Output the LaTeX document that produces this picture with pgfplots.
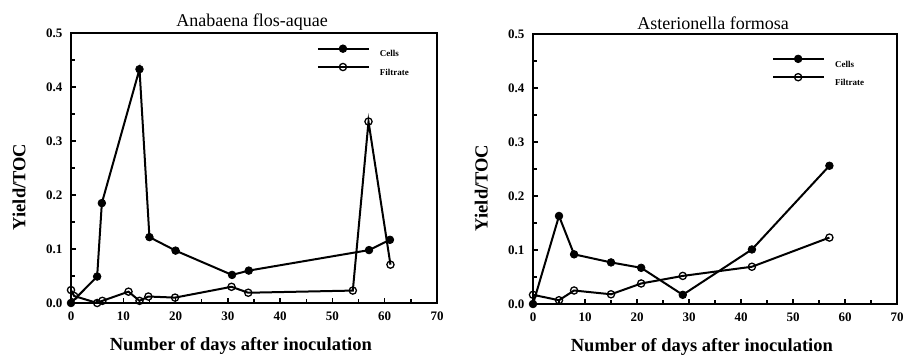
\documentclass[border=0pt]{standalone}
\usepackage{fontspec}
\setmainfont{Liberation Serif}
\usepackage{pgfplots}
\pgfplotsset{compat=1.18}

\pgfplotsset{
 panel/.style={
  scale only axis, width=366bp, height=270bp,
  xmin=0,xmax=70,ymin=0,ymax=0.5,
  xtick={0,10,20,30,40,50,60,70}, ytick={0,0.1,0.2,0.3,0.4,0.5},
  minor xtick={5,15,25,35,45,55,65}, minor ytick={0.05,0.15,0.25,0.35,0.45},
  tick pos=left, tick align=inside,
  major tick length=5bp, minor tick length=3.5bp,
  axis line style={line width=1.8bp},
  every tick/.style={line width=1.3bp, black},
  /pgf/number format/assume math mode=true,
  yticklabel style={/pgf/number format/fixed, /pgf/number format/fixed zerofill, /pgf/number format/precision=1, xshift=-5bp},
  xticklabel style={yshift=-5bp},
  every tick label/.append style={font=\fontsize{13bp}{15bp}\selectfont\bfseries},
  xlabel={Number of days after inoculation}, ylabel={Yield/TOC},
  label style={font=\fontsize{18.5bp}{21bp}\selectfont\bfseries},
  xlabel style={at={(rel axis cs:0.464,-0.16)}, anchor=center},
  ylabel style={at={(rel axis cs:-0.142,0.43)}, anchor=center},
  title style={at={(rel axis cs:0.495,1.018)}, anchor=center, font=\fontsize{18bp}{20bp}\selectfont},
  legend style={draw=none, fill=none, inner sep=0pt, outer sep=0pt,
     font=\fontsize{9bp}{10bp}\selectfont\bfseries, row sep=3bp, column sep=8bp,
     nodes={inner sep=2bp}},
  legend cell align=left,
  legend image code/.code={\draw[mark repeat=2,mark phase=2,#1] plot coordinates {(0bp,0bp) (25bp,0bp) (51bp,0bp)};},
 },
 cells/.style={black, line width=2bp, mark=*, mark size=3.8bp, mark options={solid, line width=0.8bp, fill=black}},
 filt/.style={black, line width=2bp, mark=o, mark size=3.6bp, mark options={solid, line width=1.3bp, fill=white}},
}

\begin{document}
\begin{tikzpicture}

\begin{axis}[panel, at={(71bp,52bp)}, anchor=south west,
  title={Anabaena flos-aquae},
  legend style={at={(rel axis cs:0.672,0.956)}, anchor=north west}]
\addplot[cells] coordinates {(0,0.0) (5.0,0.049) (5.9,0.185) (13.1,0.433) (15.0,0.122) (20.0,0.097) (30.8,0.052) (34.0,0.060) (57.0,0.098) (61.0,0.117)};
\addlegendentry{Cells}
\addplot[filt] coordinates {(0,0.024) (0.6,0.013) (5.0,0.0) (6.0,0.004) (11.0,0.021) (13.1,0.004) (14.8,0.012) (19.9,0.010) (30.7,0.030) (33.9,0.019) (53.9,0.023) (56.9,0.336) (61.1,0.071)};
\addlegendentry{Filtrate}
\end{axis}

\begin{axis}[panel, at={(533bp,51bp)}, anchor=south west, width=364bp,
  title={Asterionella formosa},
  legend style={at={(rel axis cs:0.657,0.922)}, anchor=north west}]
\addplot[cells] coordinates {(0,0.0) (5.0,0.163) (7.9,0.092) (15.0,0.077) (20.8,0.067) (28.8,0.017) (42.1,0.101) (57.0,0.256)};
\addlegendentry{Cells}
\addplot[filt] coordinates {(0,0.017) (5.0,0.007) (7.9,0.025) (15.0,0.018) (20.8,0.038) (28.8,0.052) (42.1,0.069) (57.0,0.123)};
\addlegendentry{Filtrate}
\end{axis}

\pgfresetboundingbox
\useasboundingbox (0,0) rectangle (903bp,355bp);
\end{tikzpicture}
\end{document}
